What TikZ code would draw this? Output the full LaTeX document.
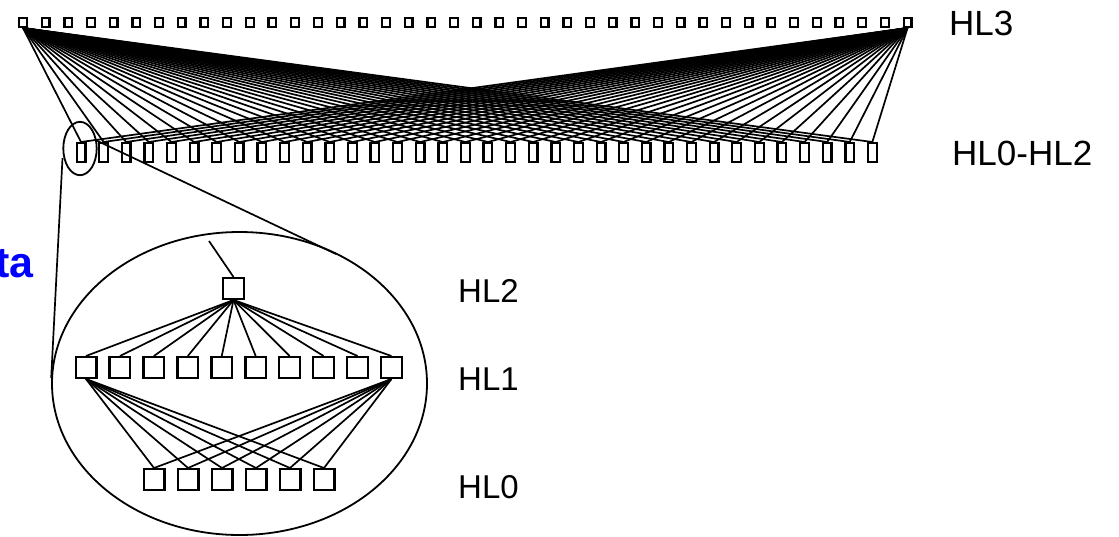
\documentclass[tikz,border=0pt]{standalone}
\usepackage{fontspec}
\setmainfont{Liberation Sans}
\usetikzlibrary{shapes.geometric}
\begin{document}
\begin{tikzpicture}[x=1pt,y=-1pt,
  topbox/.style={draw,line width=2.3pt,inner sep=0pt,minimum width=7.7pt,minimum height=8.7pt},
  midbox/.style={draw,line width=2.3pt,inner sep=0pt,minimum width=8.7pt,minimum height=18.7pt},
  bigbox/.style={draw,line width=2.3pt,inner sep=0pt,minimum size=20.7pt},
  link/.style={line width=1.7pt},
  ring/.style={draw,line width=1.8pt,ellipse,inner sep=0pt},
  lbl/.style={font=\fontsize{35}{40}\selectfont,inner sep=0pt},
  sublbl/.style={font=\fontsize{33}{38}\selectfont,inner sep=0pt}]
\useasboundingbox (0,0) rectangle (1119,536);

% upper level (HL3): 40 boxes
\foreach \i in {1,...,40}
  \node[topbox] (t\i) at ({23+(\i-1)*22.68},22.5) {};
% lower level (HL0-HL2): 36 boxes
\foreach \j in {1,...,36}
  \node[midbox] (m\j) at ({81+(\j-1)*22.61},152.5) {};

% full connection fans from the two outer HL3 boxes
\foreach \j in {1,...,36} {
  \draw[link] (t1.south) -- (m\j.north);
  \draw[link] (t40.south) -- (m\j.north);
}

% magnified group
\node[ring,minimum width=33.4pt,minimum height=53.4pt] (small) at (80,148.5) {};
\node[ring,minimum width=375pt,minimum height=303pt] (big) at (239.5,383.5) {};
\coordinate (sl) at (62.5,158);
\coordinate (bl) at (51.2,378);
\coordinate (sr) at (95.5,140);
\coordinate (br) at (336,254);
\draw[link] (sl) -- (bl);
\draw[link] (sr) -- (br);

% HL2
\node[bigbox] (h2) at (233.5,288.5) {};
\coordinate (up) at (209,241);
\draw[link] (h2.north) -- (up);
% HL1
\foreach \k in {1,...,10}
  \node[bigbox] (a\k) at ({86+(\k-1)*33.94},367.5) {};
% HL0
\foreach \k in {1,...,6}
  \node[bigbox] (b\k) at ({154+(\k-1)*34},479.5) {};
\foreach \k in {1,...,10}
  \draw[link] (h2.south) -- (a\k.north);
\foreach \k in {1,...,6} {
  \draw[link] (a1.south) -- (b\k.north);
  \draw[link] (a10.south) -- (b\k.north);
}

% labels
\node[lbl,anchor=base west] (l3) at (949,35) {HL3};
\node[lbl,anchor=base west] (l02) at (952,165) {HL0-HL2};
\node[sublbl,anchor=base west] (l2) at (458,302) {HL2};
\node[sublbl,anchor=base west] (l1) at (458,390) {HL1};
\node[sublbl,anchor=base west] (l0) at (458,498) {HL0};
\node[font=\fontsize{43}{48}\selectfont\bfseries,text={rgb,255:red,0;green,0;blue,255},inner sep=0pt,anchor=base east] (data) at (34,277) {Data};
\end{tikzpicture}
\end{document}
